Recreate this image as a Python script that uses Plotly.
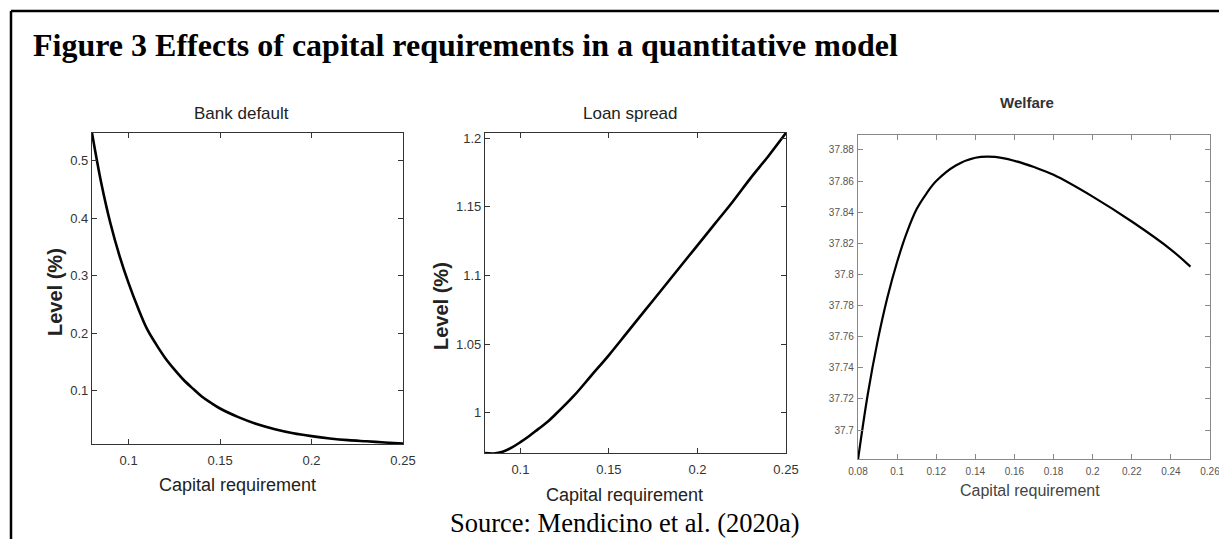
import plotly.graph_objects as go

# ---------------- data ----------------
bank_x = [0.08, 0.085, 0.09, 0.095, 0.1, 0.105, 0.11, 0.115, 0.12, 0.125, 0.13, 0.135,
          0.14, 0.145, 0.15, 0.16, 0.17, 0.18, 0.19, 0.2, 0.21, 0.22, 0.23, 0.24, 0.25]
bank_y = [0.548, 0.462, 0.392, 0.335, 0.287, 0.245, 0.208, 0.181, 0.157, 0.137, 0.119, 0.104,
          0.090, 0.079, 0.069, 0.054, 0.042, 0.033, 0.026, 0.021, 0.017, 0.014, 0.012, 0.010, 0.008]

spread_x = [0.08, 0.085, 0.09, 0.095, 0.1, 0.105, 0.11, 0.115, 0.12, 0.13, 0.14, 0.15, 0.16,
            0.17, 0.18, 0.19, 0.2, 0.21, 0.22, 0.23, 0.24, 0.25]
spread_y = [0.9705, 0.9702, 0.9715, 0.9745, 0.9785, 0.983, 0.988, 0.993, 0.999, 1.012, 1.027,
            1.042, 1.058, 1.074, 1.090, 1.106, 1.122, 1.138, 1.154, 1.171, 1.187, 1.204]

welfare_x = [0.08, 0.085, 0.09, 0.095, 0.1, 0.105, 0.11, 0.115, 0.12, 0.13, 0.14, 0.15,
             0.16, 0.17, 0.18, 0.2, 0.22, 0.24, 0.25]
welfare_y = [37.681, 37.723, 37.757, 37.785, 37.808, 37.827, 37.842, 37.852, 37.860, 37.870,
             37.875, 37.8755, 37.873, 37.869, 37.864, 37.850, 37.834, 37.816, 37.805]

bank_xticks = [0.1, 0.15, 0.2, 0.25]
bank_yticks = [0.1, 0.2, 0.3, 0.4, 0.5]
spread_xticks = [0.1, 0.15, 0.2, 0.25]
spread_yticks = [1.0, 1.05, 1.1, 1.15, 1.2]
welfare_xticks = [0.08, 0.1, 0.12, 0.14, 0.16, 0.18, 0.2, 0.22, 0.24, 0.26]
welfare_yticks = [37.7, 37.72, 37.74, 37.76, 37.78, 37.8, 37.82, 37.84, 37.86, 37.88]

fig_title = "<b>Figure 3 Effects of capital requirements in a quantitative model</b>"
source_text = "Source: Mendicino et al. (2020a)"
panel_titles = ["Bank default", "Loan spread", "Welfare"]
x_title = "Capital requirement"
y_title = "Level (%)"

# ---------------- layout helpers ----------------
# the page body has an 8px margin, so the figure starts at (8, 8) of the window
OFF = 8
W, H = 1227 - OFF, 539 - OFF
def px(x):
    return (x - OFF) / W
def py(y):
    return 1 - (y - OFF) / H

SANS = "Liberation Sans, Arial"
SERIF = "Liberation Serif, Times New Roman"

fig = go.Figure()
fig.add_trace(go.Scatter(x=bank_x, y=bank_y, mode="lines", line=dict(color="black", width=2.6, shape="spline"),
                         xaxis="x", yaxis="y", showlegend=False, hoverinfo="skip"))
fig.add_trace(go.Scatter(x=spread_x, y=spread_y, mode="lines", line=dict(color="black", width=2.6, shape="spline"),
                         xaxis="x2", yaxis="y2", showlegend=False, hoverinfo="skip"))
fig.add_trace(go.Scatter(x=welfare_x, y=welfare_y, mode="lines", line=dict(color="black", width=2.2, shape="spline"),
                         xaxis="x3", yaxis="y3", showlegend=False, hoverinfo="skip"))

def axis(domain, rng, ticks, anchor, color, fsize, fcolor, standoff):
    return dict(domain=domain, range=rng, tickvals=ticks, ticktext=["%g" % v for v in ticks],
                anchor=anchor, automargin=False,
                showline=True, linecolor=color, linewidth=1.2, mirror="allticks",
                ticks="inside", ticklen=5, tickcolor=color, showgrid=False, zeroline=False,
                ticklabelstandoff=standoff,
                tickfont=dict(family=SANS, size=fsize, color=fcolor), fixedrange=True)

fig.update_layout(
    width=W, height=H,
    margin=dict(l=0, r=0, t=0, b=0, autoexpand=False),
    paper_bgcolor="white", plot_bgcolor="white",
    xaxis=axis([px(92), px(403)], [0.08, 0.25], bank_xticks, "y", "#333", 13, "#333", 4),
    yaxis=axis([py(444), py(133)], [0.0073, 0.548], bank_yticks, "x", "#333", 13, "#333", 0),
    xaxis2=axis([px(485), px(786)], [0.08, 0.25], spread_xticks, "y2", "#333", 13, "#333", 4),
    yaxis2=axis([py(453), py(133)], [0.9706, 1.2039], spread_yticks, "x2", "#333", 13, "#333", 0),
    xaxis3=axis([px(858), px(1210)], [0.08, 0.26], welfare_xticks, "y3", "#888", 10, "#555", 3),
    yaxis3=axis([py(459), py(135)], [37.6814, 37.8896], welfare_yticks, "x3", "#888", 10, "#555", 1),
)

ann = []
ann.append(dict(text=fig_title, x=px(31), y=py(45), xanchor="left", yanchor="middle",
                font=dict(family=SERIF, size=32, color="black")))
ann.append(dict(text=source_text, x=px(625), y=py(523), xanchor="center", yanchor="middle",
                font=dict(family=SERIF, size=26.5, color="black")))
ann.append(dict(text=panel_titles[0], x=px(241), y=py(114), xanchor="center", yanchor="middle",
                font=dict(family=SANS, size=17, color="#222")))
ann.append(dict(text=panel_titles[1], x=px(630), y=py(113), xanchor="center", yanchor="middle",
                font=dict(family=SANS, size=17, color="#222")))
ann.append(dict(text="<b>" + panel_titles[2] + "</b>", x=px(1027), y=py(103), xanchor="center", yanchor="middle",
                font=dict(family=SANS, size=15, color="#333")))
ann.append(dict(text=x_title, x=px(237), y=py(485), xanchor="center", yanchor="middle",
                font=dict(family=SANS, size=18, color="#222")))
ann.append(dict(text=x_title, x=px(624), y=py(495), xanchor="center", yanchor="middle",
                font=dict(family=SANS, size=18, color="#222")))
ann.append(dict(text=x_title, x=px(1030), y=py(490), xanchor="center", yanchor="middle",
                font=dict(family=SANS, size=16, color="#444")))
ann.append(dict(text="<b>" + y_title + "</b>", x=px(55), y=py(292), xanchor="center", yanchor="middle",
                textangle=-90, font=dict(family=SANS, size=20, color="#222")))
ann.append(dict(text="<b>" + y_title + "</b>", x=px(441), y=py(306), xanchor="center", yanchor="middle",
                textangle=-90, font=dict(family=SANS, size=20, color="#222")))
for a in ann:
    a.update(xref="paper", yref="paper", showarrow=False)
fig.update_layout(annotations=ann)

fig.update_layout(shapes=[
    dict(type="line", xref="paper", yref="paper", x0=px(11), x1=px(11), y0=0, y1=py(11),
         line=dict(color="black", width=2.5)),
    dict(type="line", xref="paper", yref="paper", x0=px(11), x1=1, y0=py(11), y1=py(11),
         line=dict(color="black", width=2.5)),
])

fig.write_html("out.html")
